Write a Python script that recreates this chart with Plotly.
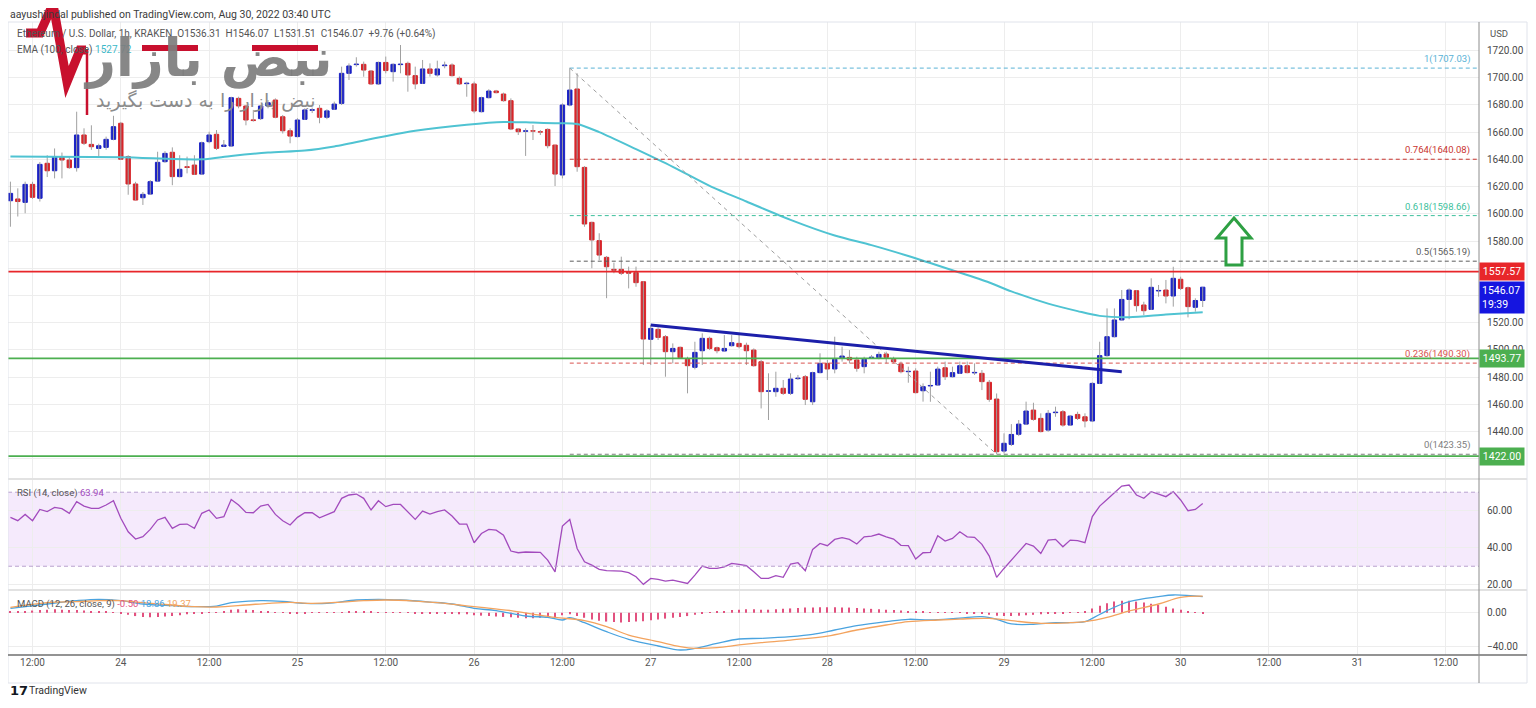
import pandas as pd
import plotly.graph_objects as go
from plotly.subplots import make_subplots

# ETH/USD 1h (Kraken), first visible bar 23 Aug 2022 09:00 UTC
first_bar = "2022-08-23 09:00"
day_zero = "2022-08-23 00:00"

bar_open = [
    1609.6, 1610.9, 1608.4, 1621.6, 1611.4, 1637.1, 1631.6, 1642.0, 1639.5, 1633.9,
    1657.9, 1651.0, 1648.0, 1648.8, 1654.7, 1666.5, 1642.0, 1621.9, 1611.8, 1614.5,
    1624.0, 1638.3, 1645.2, 1627.3, 1634.6, 1635.8, 1629.2, 1653.0, 1658.4, 1649.5,
    1649.8, 1684.8, 1679.2, 1669.0, 1669.9, 1679.2, 1683.6, 1671.3, 1661.0, 1656.7,
    1669.4, 1676.0, 1677.5, 1670.9, 1676.8, 1681.1, 1703.2, 1709.6, 1709.8, 1704.9,
    1695.4, 1711.2, 1704.4, 1709.6, 1710.5, 1701.5, 1695.8, 1706.4, 1702.0, 1708.8,
    1709.3, 1699.5, 1695.6, 1695.4, 1675.0, 1685.3, 1690.2, 1688.0, 1683.1, 1662.3,
    1660.6, 1661.0, 1660.3, 1662.0, 1650.5, 1628.5, 1679.9, 1691.7, 1634.1, 1593.7,
    1580.3, 1568.0, 1559.2, 1559.2, 1557.5, 1556.8, 1550.1, 1507.8, 1515.1, 1509.7,
    1498.7, 1501.9, 1493.1, 1487.2, 1499.4, 1508.5, 1501.6, 1499.2, 1503.1, 1504.8,
    1503.4, 1499.9, 1491.3, 1469.6, 1469.3, 1471.8, 1468.1, 1478.9, 1480.3, 1461.9,
    1483.3, 1490.1, 1486.0, 1494.1, 1494.5, 1492.6, 1487.7, 1494.3, 1494.3, 1497.0,
    1493.1, 1489.6, 1484.0, 1484.5, 1470.0, 1473.5, 1474.2, 1486.9, 1480.3, 1482.8,
    1488.4, 1483.1, 1482.8, 1476.2, 1463.9, 1425.7, 1430.6, 1438.0, 1445.5, 1455.8,
    1449.7, 1441.1, 1453.9, 1454.6, 1444.8, 1452.6, 1450.9, 1447.8, 1475.4, 1495.8,
    1509.7, 1522.0, 1537.1, 1543.5, 1533.0, 1529.8, 1543.3, 1544.0, 1539.6, 1551.9,
    1545.7, 1531.3, 1536.31,
]
bar_high = [
    1623.6, 1618.7, 1623.6, 1623.5, 1638.0, 1643.0, 1648.0, 1645.0, 1642.0, 1675.0,
    1662.8, 1665.0, 1651.5, 1656.7, 1672.0, 1667.5, 1643.0, 1623.5, 1616.0, 1624.8,
    1645.6, 1646.0, 1648.8, 1643.0, 1642.0, 1643.0, 1653.0, 1660.3, 1661.5, 1654.2,
    1686.0, 1686.0, 1680.0, 1676.3, 1680.0, 1683.6, 1684.8, 1672.6, 1662.8, 1670.2,
    1677.5, 1678.0, 1679.9, 1676.8, 1682.4, 1708.1, 1710.5, 1715.0, 1711.8, 1705.6,
    1711.8, 1715.5, 1710.5, 1724.0, 1711.8, 1708.1, 1713.0, 1710.5, 1712.5, 1711.8,
    1710.5, 1700.8, 1697.0, 1697.1, 1686.0, 1691.5, 1691.0, 1689.0, 1684.8, 1662.8,
    1662.8, 1665.2, 1661.5, 1662.8, 1650.5, 1681.1, 1707.03, 1703.2, 1635.0, 1594.2,
    1585.7, 1569.0, 1564.1, 1568.5, 1561.2, 1561.2, 1550.5, 1518.3, 1516.6, 1510.9,
    1504.8, 1502.4, 1495.0, 1506.0, 1512.2, 1509.7, 1502.4, 1510.9, 1510.9, 1512.2,
    1505.3, 1501.1, 1492.6, 1482.8, 1484.0, 1477.9, 1482.8, 1481.6, 1481.6, 1484.0,
    1497.5, 1492.6, 1509.7, 1502.4, 1499.9, 1495.0, 1495.0, 1496.2, 1498.7, 1498.7,
    1495.0, 1491.4, 1487.7, 1486.5, 1475.4, 1484.0, 1487.7, 1491.4, 1487.7, 1491.4,
    1491.4, 1490.1, 1485.2, 1477.9, 1468.0, 1438.7, 1445.5, 1448.5, 1462.0, 1461.2,
    1453.4, 1455.8, 1458.3, 1455.8, 1452.2, 1454.6, 1453.4, 1476.2, 1506.0, 1530.5,
    1530.5, 1544.0, 1545.2, 1544.0, 1535.4, 1552.6, 1547.7, 1551.4, 1561.1, 1553.8,
    1546.5, 1537.9, 1546.07,
]
bar_low = [
    1590.5, 1598.0, 1600.4, 1611.0, 1609.0, 1627.0, 1626.0, 1626.0, 1633.0, 1631.0,
    1650.5, 1647.0, 1642.0, 1647.0, 1654.0, 1639.5, 1614.0, 1609.8, 1606.5, 1613.8,
    1623.6, 1637.5, 1621.0, 1626.8, 1629.7, 1628.5, 1628.5, 1651.8, 1646.9, 1649.3,
    1649.3, 1677.5, 1665.0, 1667.7, 1668.9, 1677.5, 1670.2, 1659.0, 1651.8, 1656.2,
    1668.9, 1674.0, 1666.5, 1669.5, 1676.3, 1679.9, 1698.3, 1708.1, 1700.7, 1694.6,
    1694.6, 1703.2, 1697.1, 1703.2, 1689.7, 1691.5, 1695.4, 1700.8, 1700.8, 1706.9,
    1700.8, 1694.6, 1686.0, 1673.8, 1674.5, 1684.8, 1688.5, 1682.4, 1661.5, 1657.9,
    1642.5, 1654.2, 1657.9, 1648.1, 1620.4, 1626.0, 1679.0, 1630.9, 1590.5, 1560.0,
    1566.0, 1538.0, 1556.3, 1555.0, 1545.2, 1546.4, 1488.9, 1488.9, 1507.3, 1480.3,
    1490.1, 1493.8, 1468.1, 1485.7, 1488.9, 1499.9, 1497.5, 1498.7, 1502.4, 1501.1,
    1488.9, 1487.7, 1457.0, 1448.5, 1465.6, 1466.9, 1466.9, 1477.9, 1459.5, 1459.5,
    1482.8, 1477.9, 1482.8, 1491.4, 1490.1, 1484.0, 1482.8, 1493.8, 1493.1, 1490.1,
    1490.1, 1482.8, 1475.9, 1468.1, 1462.0, 1461.9, 1473.5, 1477.9, 1479.8, 1482.3,
    1482.8, 1481.6, 1470.5, 1461.9, 1423.35, 1424.0, 1429.4, 1436.7, 1444.8, 1448.0,
    1439.4, 1439.9, 1450.9, 1443.6, 1444.1, 1448.5, 1443.1, 1447.0, 1474.9, 1495.0,
    1509.2, 1521.5, 1522.5, 1528.1, 1525.6, 1529.3, 1539.1, 1534.2, 1531.8, 1544.0,
    1523.9, 1528.1, 1531.51,
]
bar_close = [
    1615.0, 1609.0, 1621.6, 1612.1, 1636.3, 1631.6, 1642.0, 1639.5, 1633.9, 1657.9,
    1651.8, 1649.3, 1650.0, 1654.7, 1664.0, 1640.1, 1621.9, 1610.1, 1614.3, 1623.6,
    1637.8, 1644.4, 1627.3, 1632.7, 1634.0, 1629.0, 1652.2, 1657.9, 1648.1, 1650.5,
    1685.3, 1679.2, 1668.9, 1668.5, 1679.2, 1681.6, 1670.9, 1661.0, 1657.1, 1668.9,
    1676.3, 1676.5, 1670.9, 1675.6, 1680.6, 1703.2, 1708.6, 1710.0, 1705.6, 1695.4,
    1711.2, 1705.2, 1709.8, 1710.0, 1702.0, 1695.4, 1706.4, 1703.2, 1706.4, 1709.3,
    1701.5, 1695.4, 1696.0, 1675.5, 1685.3, 1690.2, 1689.0, 1683.1, 1662.3, 1660.3,
    1661.0, 1660.7, 1660.0, 1650.0, 1629.2, 1679.9, 1690.9, 1634.6, 1592.5, 1580.8,
    1569.7, 1561.1, 1558.5, 1556.3, 1556.3, 1549.4, 1508.0, 1515.8, 1509.2, 1498.7,
    1501.1, 1494.3, 1488.4, 1498.2, 1508.5, 1501.1, 1499.4, 1501.1, 1505.3, 1502.4,
    1499.4, 1488.4, 1469.3, 1470.0, 1471.8, 1468.1, 1478.6, 1479.3, 1463.7, 1483.3,
    1490.1, 1486.0, 1493.1, 1495.5, 1492.6, 1486.5, 1493.1, 1494.7, 1496.7, 1494.5,
    1491.3, 1484.0, 1484.3, 1468.6, 1473.0, 1473.9, 1485.9, 1480.3, 1483.3, 1488.4,
    1483.3, 1483.5, 1476.7, 1463.7, 1425.2, 1431.4, 1437.9, 1445.5, 1455.1, 1449.0,
    1440.0, 1453.4, 1454.3, 1444.8, 1451.4, 1449.7, 1447.8, 1475.4, 1495.8, 1509.7,
    1522.0, 1537.1, 1544.0, 1532.5, 1528.8, 1546.0, 1543.7, 1539.6, 1552.6, 1545.2,
    1531.8, 1536.31, 1546.07,
]

# EMA(100) at some bars
ema_bar = [0, 15, 26, 30, 35, 40, 44, 50, 55, 62, 67, 71, 74, 77, 80, 85, 90, 95,
           100, 106, 112, 117, 122, 128, 133, 136, 141, 145, 148, 152, 157, 162]
ema_value = [1642, 1641.5, 1640, 1642.5, 1645, 1646.5, 1649.5, 1656, 1661, 1665.5,
             1667.5, 1667, 1666.5, 1666, 1660, 1647.5, 1634.5, 1620.5, 1609, 1595.5,
             1584, 1577, 1569, 1558.5, 1549.5, 1543, 1534, 1528.5, 1525, 1524, 1526, 1527.72]

rsi_value = [
    56.4, 54.6, 58.0, 54.6, 60.7, 59.5, 61.8, 61.1, 58.6, 64.9,
    62.5, 61.3, 61.3, 63.1, 65.4, 55.9, 48.6, 44.7, 46.0, 49.9,
    55.0, 56.4, 50.5, 52.6, 52.8, 50.5, 58.6, 60.4, 55.9, 56.8,
    66.1, 63.1, 59.1, 58.9, 62.5, 63.4, 58.0, 54.6, 52.3, 56.4,
    58.9, 58.9, 56.2, 58.0, 59.5, 66.7, 68.5, 69.0, 66.7, 60.4,
    65.4, 62.2, 63.4, 63.4, 59.5, 55.3, 59.8, 58.2, 59.5, 60.4,
    57.1, 52.8, 52.8, 42.7, 47.7, 49.9, 49.5, 46.8, 38.2, 37.3,
    37.7, 37.5, 37.5, 33.3, 27.0, 51.7, 55.3, 39.6, 32.4, 30.6,
    28.3, 27.6, 27.4, 27.4, 26.5, 24.3, 20.2, 23.4, 22.9, 22.0,
    22.5, 21.4, 20.7, 25.2, 30.1, 28.8, 28.8, 29.7, 31.5, 31.0,
    30.3, 27.0, 23.4, 23.4, 24.9, 24.0, 31.2, 31.9, 27.6, 39.1,
    42.3, 41.1, 44.5, 45.4, 44.5, 42.0, 45.9, 46.3, 47.4, 45.9,
    44.7, 41.3, 41.1, 33.9, 37.3, 37.5, 46.5, 43.6, 45.0, 48.6,
    45.9, 45.6, 41.8, 35.5, 24.0, 28.8, 33.3, 37.8, 42.3, 40.9,
    36.9, 44.1, 44.5, 40.5, 44.1, 43.8, 42.7, 56.8, 62.5, 66.1,
    69.7, 73.3, 73.9, 68.5, 66.7, 70.3, 69.0, 67.6, 70.3, 65.8,
    60.0, 60.7, 63.94,
]

macd_bar = [0, 5, 9, 12, 15, 18, 22, 25, 28, 30, 34, 37, 40, 43, 47, 50, 53, 57,
            60, 63, 66, 70, 73, 75, 76, 78, 81, 84, 88, 91, 93, 96, 99, 102, 106,
            109, 112, 115, 119, 122, 125, 129, 132, 134, 136, 139, 142, 146, 147,
            149, 152, 156, 158, 162]
macd_value = [5.1, 10.2, 14.1, 15.7, 14.1, 10.2, 8.2, 7.1, 7.8, 11.8, 14.1, 13.3,
              11.0, 11.0, 14.9, 15.7, 14.9, 12.5, 10.2, 5.1, 2.4, -3.9, -5.5, -8.6,
              -5.9, -11.8, -22.4, -31.4, -39.2, -43.9, -42.0, -36.1, -31.0, -30.2,
              -28.2, -25.5, -20.4, -15.3, -10.6, -7.8, -8.6, -6.3, -4.7, -7.8, -13.3,
              -13.7, -11.8, -10.6, -6.7, 2.4, 12.9, 18.8, 20.8, 18.86]
signal_bar = [0, 5, 9, 12, 15, 18, 22, 25, 28, 32, 35, 38, 41, 45, 48, 51, 55, 58,
              61, 64, 68, 71, 74, 78, 81, 84, 88, 91, 93, 96, 99, 102, 106, 111, 115,
              119, 122, 126, 129, 133, 136, 140, 144, 146, 149, 152, 156, 159, 162]
signal_value = [6.3, 11.8, 12.9, 14.1, 14.1, 11.8, 9.0, 7.1, 6.7, 9.0, 11.0, 12.2,
                11.0, 12.5, 14.1, 14.9, 13.7, 11.8, 9.0, 6.3, 2.4, -1.6, -5.5, -9.4,
                -16.5, -26.3, -34.1, -40.0, -42.0, -41.2, -38.0, -35.3, -32.2, -27.5,
                -20.4, -14.5, -10.6, -8.6, -7.5, -6.7, -9.4, -12.5, -11.8, -10.6, -5.5,
                2.0, 10.2, 18.0, 19.37]
hist_value = [
    1, 1.5, 2, 2.5, 3, 3.5, 4, 3.5, 3, 3, 2.5, 2, 1.5, 1, 0.5,
    -1, -2.5, -4, -5, -5.5, -5, -4.5, -4, -3, -2, -1.5,
    -0.5, 0.3, 0.5,
    2, 3.5, 4, 3.5, 3, 2, 1,
    0.5, 0.3, -0.5, -1, -0.5, 0.3, 0.5, 0.5, 0.3, 0.5, 1, 1.5, 1.5, 1, 0.5, 0.5,
    0.3, 0.3, 0.3, -0.5, -1, -1, -1, -1.5, -1.5, -2, -2,
    -3, -3.5, -4, -4.5, -5, -5.5, -6, -6.5, -6.5, -6, -5.5,
    -5, -3,
    -2, -4, -6, -8, -9.5, -10.5, -11, -11.5, -11, -10.5, -10, -9, -8, -7, -6, -5, -4,
    -2.5, -1, 0.3,
    1, 2, 3, 3.5, 4, 4,
    3.5, 3.5, 4, 4.5, 5, 5.5, 6, 6, 6.5, 6.5, 6.5, 6, 6, 5.5, 5, 4.5, 4, 3.5, 3, 2.5, 2, 1.5,
    1, 0.5, 0.5, 0.3, 0.3, 0.3, -0.5, -0.5,
    -1.5, -2.5, -3.5, -4, -4, -3.5, -3, -2.5, -2,
    -1.5, -1, -0.5, 0.3, 0.5,
    2, 5, 8, 11, 13, 14, 14, 13, 12, 10.5, 9, 7, 5, 3.5, 2, 0.5, -0.5,
]

fib_ratio = ["1", "0.764", "0.618", "0.5", "0.236", "0"]
fib_price = [1707.03, 1640.08, 1598.66, 1565.19, 1490.30, 1423.35]
fib_color = ["#5ab2d6", "#c9342f", "#3dbf9c", "#5c5c5c", "#d9534f", "#7d7d7d"]
fib_from_bar = 76      # swing high
fib_to_bar = 134       # swing low

level_price = [1557.57, 1493.77, 1422.00]
level_color = ["#e8262a", "#4caf50", "#4caf50"]

trend_bar = [87, 151]
trend_price = [1518.3, 1484.0]

price_ticks = list(range(1420, 1721, 20))
hidden_ticks = [1420, 1540, 1560]   # sit under the price tags

UP = "#1b22c4"
DOWN = "#d7262b"
FONT = "Liberation Sans Narrow, Roboto, sans-serif"
RED_LOGO = "#c8102e"

times = pd.date_range(first_bar, periods=len(bar_close), freq="h")
hours = ((times - pd.Timestamp(day_zero)) / pd.Timedelta(hours=1)).tolist()
h0 = hours[0]

fig = make_subplots(rows=3, cols=1, shared_xaxes=True, vertical_spacing=0.004)

# wicks
wx, wy = [], []
for h, hi, lo in zip(hours, bar_high, bar_low):
    wx += [h, h, None]
    wy += [lo, hi, None]
fig.add_trace(go.Scatter(x=wx, y=wy, mode="lines", line=dict(color="#a0a0a0", width=1),
                         hoverinfo="skip"), row=1, col=1)

body_base = [min(o, c) for o, c in zip(bar_open, bar_close)]
body_size = [abs(c - o) for o, c in zip(bar_open, bar_close)]
body_color = [UP if c >= o else DOWN for o, c in zip(bar_open, bar_close)]
fig.add_trace(go.Bar(x=hours, y=body_size, base=body_base, width=0.6,
                     marker=dict(color=body_color, line=dict(color=body_color, width=1))),
              row=1, col=1)

fig.add_trace(go.Scatter(x=[h0 + b for b in ema_bar], y=ema_value, mode="lines",
                         line=dict(color="#4fc3d2", width=2, shape="spline", smoothing=0.8)),
              row=1, col=1)

# RSI
fig.add_trace(go.Scatter(x=hours, y=rsi_value, mode="lines",
                         line=dict(color="#a24bbd", width=1.3)), row=2, col=1)

# MACD
fig.add_trace(go.Bar(x=hours, y=hist_value, width=0.16, marker=dict(color="#e2517f", line_width=0)),
              row=3, col=1)
fig.add_trace(go.Scatter(x=[h0 + b for b in macd_bar], y=macd_value, mode="lines",
                         line=dict(color="#4aa3df", width=1.3, shape="spline")), row=3, col=1)
fig.add_trace(go.Scatter(x=[h0 + b for b in signal_bar], y=signal_value, mode="lines",
                         line=dict(color="#f3a35e", width=1.3, shape="spline")), row=3, col=1)

# page pixels -> paper coords (the page body has an 8px margin)
OFF = 8
W, H = 1536 - OFF, 708 - OFF
PL, PR, PT, PB = 8, 1479, 22, 655       # plot area in page pixels
def px(x):
    return (x - PL) / (PR - PL)
def py(y):
    return (PB - y) / (PB - PT)

shapes = []
# fib levels
for p, c in zip(fib_price, fib_color):
    shapes.append(dict(type="line", xref="x", yref="y", x0=h0 + fib_from_bar, x1=208.54,
                       y0=p, y1=p, line=dict(color=c, width=1, dash="4px,3px")))
shapes.append(dict(type="line", xref="x", yref="y", x0=h0 + fib_from_bar, y0=fib_price[0],
                   x1=h0 + fib_to_bar, y1=fib_price[-1],
                   line=dict(color="#9e9e9e", width=1, dash="4px,4px")))
# horizontal levels
for p, c in zip(level_price, level_color):
    shapes.append(dict(type="line", xref="x domain", yref="y", x0=0, x1=1, y0=p, y1=p,
                       line=dict(color=c, width=1.8)))
# trend line
shapes.append(dict(type="line", xref="x", yref="y", x0=h0 + trend_bar[0], y0=trend_price[0],
                   x1=h0 + trend_bar[1], y1=trend_price[1], line=dict(color="#1c1faa", width=3)))
# green arrow
shapes.append(dict(type="path", xref="x", yref="y",
                   path="M 175.25,1596.9 L 177.56,1582.2 L 176.34,1582.2 L 176.34,1562.4 "
                        "L 174.16,1562.4 L 174.16,1582.2 L 172.94,1582.2 Z",
                   line=dict(color="#2ea043", width=3), fillcolor="white"))
# RSI band
shapes.append(dict(type="rect", xref="x2 domain", yref="y2", x0=0, x1=1, y0=30, y1=70,
                   fillcolor="rgba(170,80,230,0.12)", line_width=0, layer="below"))
for v in (30, 70):
    shapes.append(dict(type="line", xref="x2 domain", yref="y2", x0=0, x1=1, y0=v, y1=v,
                       line=dict(color="#b9a2cf", width=1, dash="4px,3px")))
# panel separators, frame, axis lines
for yy in (479, 590):
    shapes.append(dict(type="line", xref="paper", yref="paper", x0=0, x1=px(1527),
                       y0=py(yy), y1=py(yy), line=dict(color="#d9d9d9", width=1.5)))
shapes.append(dict(type="rect", xref="paper", yref="paper", x0=0, x1=px(1527),
                   y0=py(683), y1=1, line=dict(color="#e0e3eb", width=1)))
shapes.append(dict(type="line", xref="paper", yref="paper", x0=0, x1=px(1527), y0=0, y1=0,
                   line=dict(color="#6f6f6f", width=1.5)))
shapes.append(dict(type="line", xref="paper", yref="paper", x0=1, x1=1, y0=py(683), y1=1,
                   line=dict(color="#8c8c8c", width=1)))
# watermark logo (pulse + kashida strokes)
pulse = [(26, 33), (40, 33), (53, 4), (67, 82), (80, 50), (86, 50)]
shapes.append(dict(type="path", xref="paper", yref="paper",
                   path="M " + " L ".join(f"{px(a)},{py(b)}" for a, b in pulse),
                   line=dict(color=RED_LOGO, width=9)))
shapes.append(dict(type="line", xref="paper", yref="paper", x0=px(87), x1=px(87),
                   y0=py(50), y1=py(115), line=dict(color=RED_LOGO, width=2.5)))
for a, b in ((142, 198), (252, 318)):
    shapes.append(dict(type="line", xref="paper", yref="paper", x0=px(a), x1=px(b),
                       y0=py(48), y1=py(48), line=dict(color=RED_LOGO, width=6)))

annotations = []
def note(text, x, y, size=11, color="#555", xanchor="left", family=FONT):
    annotations.append(dict(text=text, x=x, y=y, xref="paper", yref="paper", showarrow=False,
                            xanchor=xanchor, yanchor="middle",
                            font=dict(size=size, color=color, family=family)))

note("aayushjindal published on TradingView.com, Aug 30, 2022 03:40 UTC", px(8), py(14), 10.5, "#3c3c3c")
note("Ethereum / U.S. Dollar, 1h, KRAKEN  O1536.31  H1546.07  L1531.51  C1546.07  +9.76 (+0.64%)",
     px(15), py(34), 10)
note("EMA (100, close) <span style='color:#3bb8c8'>1527.72</span>", px(15), py(50), 10)
note("RSI (14, close) <span style='color:#a24bbd'>63.94</span>", px(15), py(493), 9.5)
note("MACD (12, 26, close, 9) <span style='color:#e2517f'>-0.50</span> "
     "<span style='color:#4aa3df'>18.86</span> <span style='color:#f3a35e'>19.37</span>",
     px(15), py(604), 9.5)
note("USD", px(1488), py(33), 9.5)
note("<b>17</b>", px(8), py(690), 13, "#131722", family="DejaVu Sans")
note("TradingView", px(27), py(690), 10.5, "#333")

# watermark text
note("<b>نبض بازار</b>", px(208), py(58), 52, "rgba(125,125,125,0.92)", xanchor="center",
     family="DejaVu Sans")
note("نبض بازار را به دست بگیرید", px(205), py(100), 19, "#8c8c8c", xanchor="center",
     family="DejaVu Sans")

# fib labels
for r, p, c in zip(fib_ratio, fib_price, fib_color):
    annotations.append(dict(text=f"{r}({p:.2f})", x=px(1472), y=p, xref="paper", yref="y",
                            showarrow=False, xanchor="right", yanchor="bottom", yshift=1,
                            font=dict(size=9.5, color=c, family=FONT)))
# price tags on the axis
for p, c in zip(level_price, level_color):
    annotations.append(dict(text=f"{p:.2f}", x=1.0, y=p, xref="paper", yref="y", showarrow=False,
                            xanchor="left", yanchor="middle", bgcolor=c, width=40, borderpad=2,
                            font=dict(size=10.5, color="white", family=FONT)))
annotations.append(dict(text=f"{bar_close[-1]:.2f}<br>19:39", x=1.0, y=bar_close[-1], xref="paper",
                        yref="y", showarrow=False, xanchor="left", yanchor="top", yshift=6,
                        bgcolor="#1515e0", width=40, borderpad=2, align="left",
                        font=dict(size=10.5, color="white", family=FONT)))

tick_hours = list(range(12, 205, 12))
tick_text = ["12:00" if h % 24 else str(23 + h // 24) for h in tick_hours]

fig.update_xaxes(range=[8.67, 208.54], tickvals=tick_hours, ticktext=tick_text, showgrid=True,
                 gridcolor="#ededed", zeroline=False, showline=False, ticks="")
fig.update_xaxes(showticklabels=True, tickfont=dict(size=10, color="#555", family=FONT), row=3, col=1)

axis_common = dict(side="right", showgrid=True, gridcolor="#ededed", zeroline=False,
                   showline=False, ticks="", ticklabelstandoff=7,
                   tickfont=dict(size=10, color="#4a4a4a", family=FONT))
fig.update_layout(
    width=W, height=H,
    margin=dict(l=PL - OFF, r=W - (PR - OFF), t=PT - OFF, b=H - (PB - OFF)),
    paper_bgcolor="white", plot_bgcolor="white",
    showlegend=False, hovermode=False, barmode="overlay",
    yaxis=dict(domain=[py(478), 1], range=[1405.9, 1740.9], tickvals=price_ticks,
               ticktext=["" if v in hidden_ticks else f"{v:.2f}" for v in price_ticks],
               **axis_common),
    yaxis2=dict(domain=[py(589), py(480)], range=[17.7, 76.6], tickvals=[20, 40, 60],
                tickformat=".2f", **axis_common),
    yaxis3=dict(domain=[0, py(591)], range=[-49.8, 25.5], tickvals=[-40, 0],
                tickformat=".2f", **axis_common),
    shapes=shapes, annotations=annotations,
)

fig.write_html("out.html")
